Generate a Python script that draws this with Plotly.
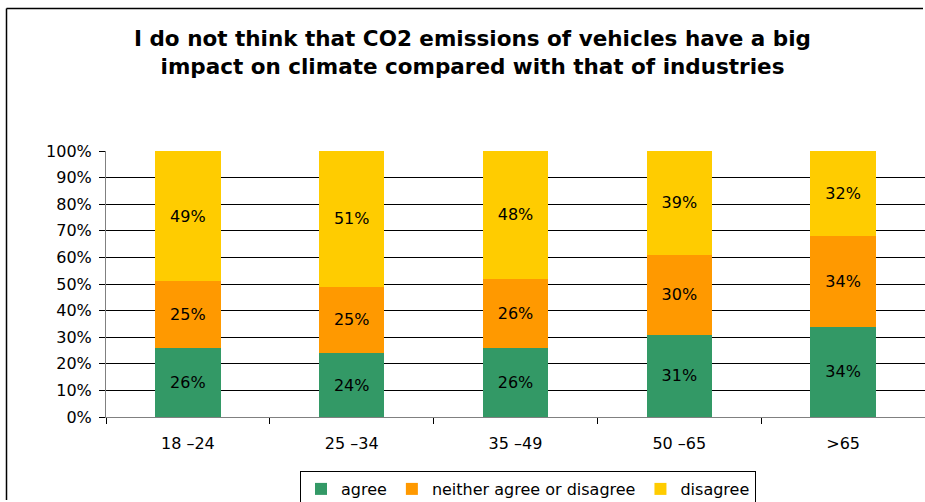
import plotly.graph_objects as go

# Survey answers by age group (percent of respondents)
age_groups = ["18 \u201324", "25 \u201334", "35 \u201349", "50 \u201365", ">65"]
agree = [26, 24, 26, 31, 34]
neither = [25, 25, 26, 30, 34]
disagree = [49, 51, 48, 39, 32]

series_names = ["agree", "neither agree or disagree", "disagree"]
series_colors = ["#339966", "#FF9900", "#FFCC00"]

title_text = ("I do not think that CO2 emissions of vehicles have a big<br>"
              "impact on climate compared with that of industries")

FONT = "DejaVu Sans"
W, H = 925, 502
L, R, T, B = 106, 0, 151, 85
plot_w = W - L - R
plot_h = H - T - B


def px_to_paper_x(px):
    return (px - L) / plot_w


def px_to_paper_y(py):
    return (H - B - py) / plot_h


fig = go.Figure()
for name, vals, color in zip(series_names, [agree, neither, disagree], series_colors):
    fig.add_trace(go.Bar(
        x=age_groups,
        y=vals,
        name=name,
        marker=dict(color=color, line=dict(width=0)),
        text=[f"{v}%" for v in vals],
        textposition="inside",
        insidetextanchor="middle",
        textangle=0,
        constraintext="none",
        textfont=dict(family=FONT, size=16, color="#000000"),
        hoverinfo="skip",
    ))

# Outer chart frame: top and left edges, kept inside the page
frame = dict(color="#000000", width=1.5)
fig.add_shape(
    type="line", xref="paper", yref="paper",
    x0=px_to_paper_x(6.5), x1=px_to_paper_x(W - 2),
    y0=px_to_paper_y(8.5), y1=px_to_paper_y(8.5),
    line=frame, layer="below",
)
fig.add_shape(
    type="line", xref="paper", yref="paper",
    x0=px_to_paper_x(6.5), x1=px_to_paper_x(6.5),
    y0=px_to_paper_y(8.5), y1=px_to_paper_y(H - 2),
    line=frame, layer="below",
)

# Two-line bold chart title
fig.add_annotation(
    text=title_text,
    xref="paper", yref="paper",
    x=px_to_paper_x(472), xanchor="center",
    y=px_to_paper_y(53), yanchor="middle",
    showarrow=False, align="center",
    font=dict(family=FONT, size=21.5, color="#000000", weight="bold"),
)

fig.update_layout(
    width=W, height=H,
    margin=dict(l=L, r=R, t=T, b=B, pad=0, autoexpand=False),
    barmode="stack",
    bargap=0.6,
    paper_bgcolor="#FFFFFF",
    plot_bgcolor="#FFFFFF",
    font=dict(family=FONT, size=16, color="#000000"),
    showlegend=True,
    legend=dict(
        orientation="h",
        x=px_to_paper_x(300), xanchor="left",
        y=px_to_paper_y(471), yanchor="top",
        bgcolor="#FFFFFF",
        bordercolor="#000000", borderwidth=1,
        font=dict(family=FONT, size=16, color="#000000"),
        itemwidth=30,
        traceorder="normal",
    ),
    xaxis=dict(
        type="category",
        automargin=False,
        showgrid=False,
        showline=True, linecolor="#808080", linewidth=1,
        ticks="outside", ticklen=6, tickcolor="#000000", tickwidth=1,
        tickson="boundaries",
        ticklabelstandoff=12,
        tickfont=dict(family=FONT, size=16, color="#000000"),
        fixedrange=True,
    ),
    yaxis=dict(
        range=[0, 100],
        dtick=10,
        ticksuffix="%",
        automargin=False,
        showgrid=True, gridcolor="#000000", gridwidth=1,
        showline=True, linecolor="#808080", linewidth=1,
        ticks="outside", ticklen=6, tickcolor="#000000", tickwidth=1,
        ticklabelstandoff=4,
        tickfont=dict(family=FONT, size=16, color="#000000"),
        zeroline=False,
        fixedrange=True,
    ),
)

fig.write_html("out.html", config={"displayModeBar": False})
